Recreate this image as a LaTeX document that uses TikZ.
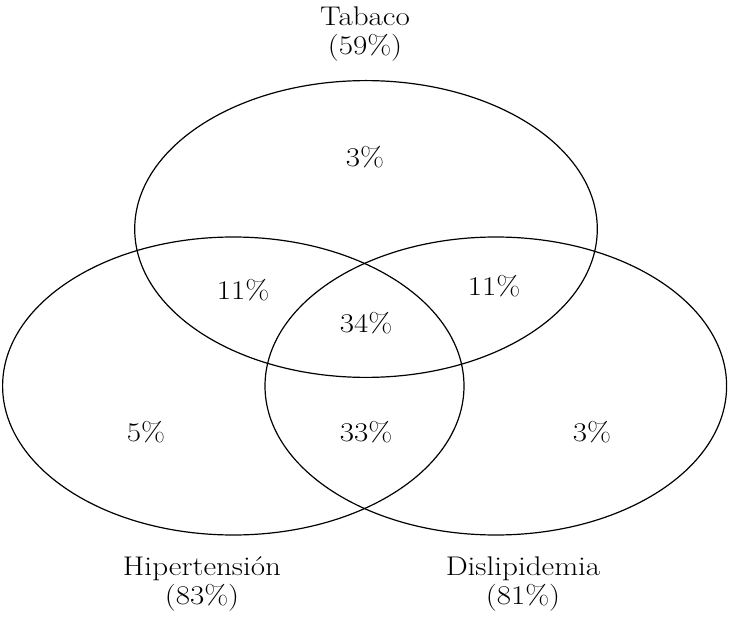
\documentclass[tikz,border=0pt]{standalone}
\newcommand\wtxt[1]{\scalebox{1.15}[1]{#1}}
\begin{document}
\begin{tikzpicture}[x=1pt,y=-1pt,
  setring/.style={draw=black, line width=1.2pt},
  lbl/.style={font=\fontsize{27}{29}\selectfont, inner sep=0pt, align=center},
  pct/.style={font=\fontsize{27}{29}\selectfont, inner sep=0pt}]
\useasboundingbox (0,0) rectangle (730,617);
\draw[setring] (366,229) ellipse [x radius=231.3, y radius=148.4];
\draw[setring] (233.3,386) ellipse [x radius=230.7, y radius=149];
\draw[setring] (495.8,386) ellipse [x radius=230.8, y radius=149];
\node[lbl] (tab) at (365,34) {\wtxt{Tabaco}\\\wtxt{(59\%)}};
\node[lbl] (hip) at (202,584) {\wtxt{Hipertensión}\\\wtxt{(83\%)}};
\node[lbl] (dis) at (523,584) {\wtxt{Dislipidemia}\\\wtxt{(81\%)}};
\node[pct] (t) at (365,157) {\wtxt{3\%}};
\node[pct] (th) at (243,290) {\wtxt{11\%}};
\node[pct] (td) at (494,286) {\wtxt{11\%}};
\node[pct] (thd) at (366,323) {\wtxt{34\%}};
\node[pct] (h) at (146,432) {\wtxt{5\%}};
\node[pct] (hd) at (366,432) {\wtxt{33\%}};
\node[pct] (d) at (592,432) {\wtxt{3\%}};
\end{tikzpicture}
\end{document}
